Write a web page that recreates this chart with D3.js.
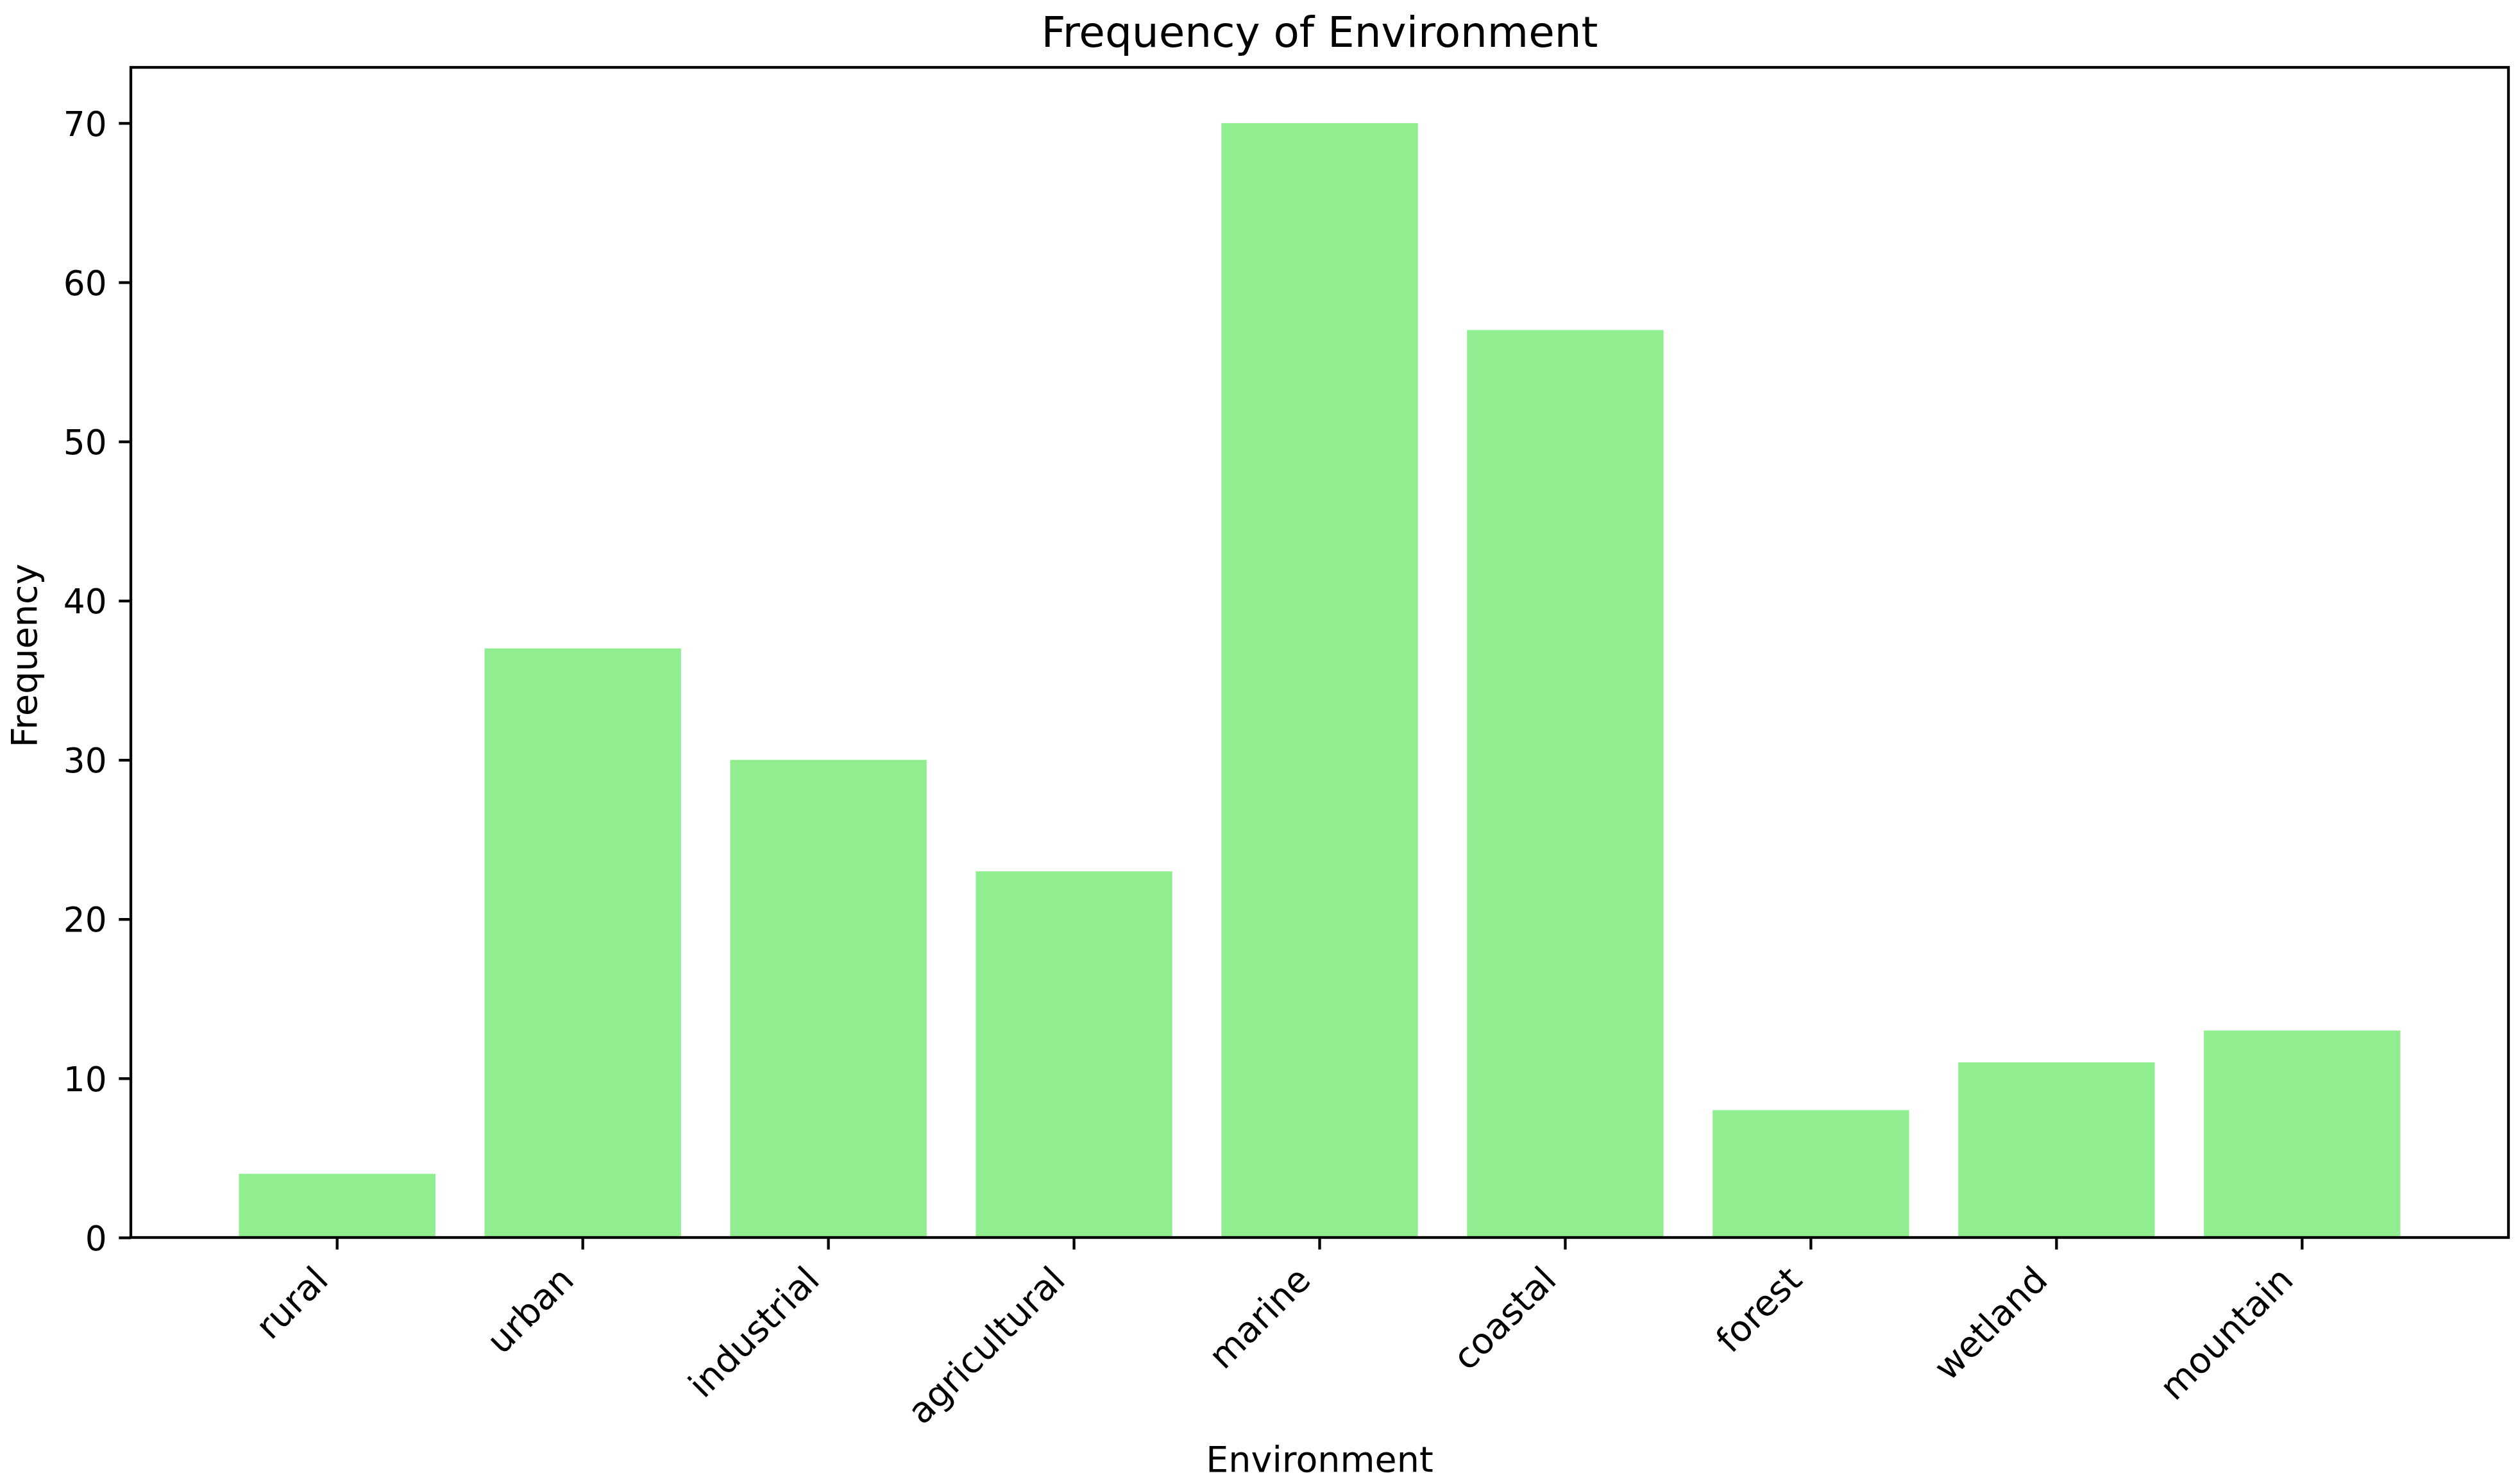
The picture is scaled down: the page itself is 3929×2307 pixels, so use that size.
<!DOCTYPE html>
<html>
<head>
<meta charset="utf-8">
<script src="https://cdn.jsdelivr.net/npm/d3@7"></script>
<style>
  html, body { margin: 0; padding: 0; background: #ffffff; }
  svg { display: block; }
  text { font-family: "DejaVu Sans", sans-serif; fill: #000; }
</style>
</head>
<body>
<svg id="chart"></svg>
<script>
// ---- data ----
const categories = ["rural", "urban", "industrial", "agricultural", "marine", "coastal", "forest", "wetland", "mountain"];
const frequencies = [4, 37, 30, 23, 70, 57, 8, 11, 13];
const yTicks = [0, 10, 20, 30, 40, 50, 60, 70];
const titleText = "Frequency of Environment";
const xLabelText = "Environment";
const yLabelText = "Frequency";

// ---- layout ----
const W = 3929, H = 2307;
const plot = { left: 204, right: 3911, top: 105, bottom: 1929 };
const fsNum = 53.3;       // y tick numbers
const fs = 55.5;          // word labels
const titleFs = 66;
const tickLen = 18.7, tickPad = 18.7, lw = 4.3;
const barColor = "#90ee90";

const svg = d3.select("#chart").attr("width", W).attr("height", H);
svg.append("rect").attr("width", W).attr("height", H).attr("fill", "#fff");

const x = d3.scaleBand()
  .domain(categories)
  .range([plot.left, plot.right])
  .paddingInner(0.2)
  .paddingOuter(0.44);

const y = d3.scaleLinear()
  .domain([0, d3.max(frequencies) * 1.05])
  .range([plot.bottom, plot.top]);

// bars
svg.append("g").selectAll("rect")
  .data(categories.map((c, i) => ({ c, v: frequencies[i] })))
  .join("rect")
  .attr("x", d => x(d.c))
  .attr("width", x.bandwidth())
  .attr("y", d => y(d.v))
  .attr("height", d => y(0) - y(d.v))
  .attr("fill", barColor);

// y axis
const yAxis = svg.append("g")
  .attr("transform", `translate(${plot.left},0)`)
  .call(d3.axisLeft(y).tickValues(yTicks).tickSize(tickLen).tickPadding(tickPad).tickFormat(d3.format("d")));
yAxis.select(".domain").remove();
yAxis.selectAll(".tick line").attr("stroke", "#000").attr("stroke-width", lw);
yAxis.selectAll(".tick text")
  .attr("font-size", fsNum)
  .attr("font-family", "DejaVu Sans")
  .attr("fill", "#000")
  .attr("dy", "0.36em");

// x axis
const xAxis = svg.append("g")
  .attr("transform", `translate(0,${plot.bottom})`)
  .call(d3.axisBottom(x).tickSize(tickLen).tickPadding(tickPad));
xAxis.select(".domain").remove();
xAxis.selectAll(".tick line").attr("stroke", "#000").attr("stroke-width", lw);
xAxis.selectAll(".tick text")
  .attr("font-size", fs)
  .attr("font-family", "DejaVu Sans")
  .attr("fill", "#000")
  .attr("text-anchor", "end")
  .attr("dy", null)
  .attr("y", null)
  .attr("transform", `translate(-11,${tickLen + tickPad + 32}) rotate(-45)`);

// frame (spines)
svg.append("rect")
  .attr("x", plot.left).attr("y", plot.top)
  .attr("width", plot.right - plot.left)
  .attr("height", plot.bottom - plot.top)
  .attr("fill", "none")
  .attr("stroke", "#000")
  .attr("stroke-width", lw)
  .attr("stroke-linejoin", "miter");

// title
svg.append("text")
  .attr("x", (plot.left + plot.right) / 2)
  .attr("y", 73)
  .attr("text-anchor", "middle")
  .attr("font-size", titleFs)
  .text(titleText);

// x label
svg.append("text")
  .attr("x", (plot.left + plot.right) / 2)
  .attr("y", 2294)
  .attr("text-anchor", "middle")
  .attr("font-size", fs)
  .text(xLabelText);

// y label
svg.append("text")
  .attr("transform", `translate(57,${(plot.top + plot.bottom) / 2 + 5}) rotate(-90)`)
  .attr("text-anchor", "middle")
  .attr("font-size", fs)
  .text(yLabelText);
</script>
</body>
</html>
